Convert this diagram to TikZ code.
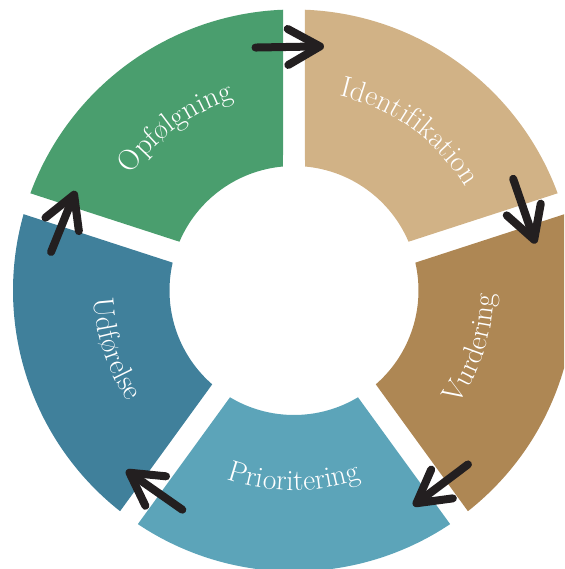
\documentclass[tikz,border=0pt]{standalone}
\usepackage{fontspec}
\usepackage{xcolor}
\usepackage{tikz}
\usetikzlibrary{arrows.meta,decorations.text}

\definecolor{identcol}{HTML}{D1B286}
\definecolor{vurdcol}{HTML}{AE8754}
\definecolor{priocol}{HTML}{5CA4B9}
\definecolor{udfcol}{HTML}{40809B}
\definecolor{opfcol}{HTML}{4A9E6E}
\definecolor{arrowcol}{HTML}{231F20}
\newcommand{\ringfont}{\fontsize{21}{25}\selectfont\color{white}}

\begin{document}
\begin{tikzpicture}[
    ringtext/.style = {decorate, decoration={text along path, text align=center, text={|\ringfont|#1}}},
    flow/.style = {line width=0.2cm, line cap=round, arrowcol,
      -{Straight Barb[length=0.8cm, width=0.9cm, round]}}
  ]
  \clip (-7.35,-6.9625) rectangle (6.75,7.2625);

  % ring segments
  \fill[identcol] (87.76:7.025) arc[start angle=87.76, end angle=20.24, radius=7.025]
    -- (23.07:3.1125) arc[start angle=23.07, end angle=84.93, radius=3.1125] -- cycle;
  \fill[vurdcol] (15.76:7.025) arc[start angle=15.76, end angle=-51.76, radius=7.025]
    -- (-48.93:3.1125) arc[start angle=-48.93, end angle=12.93, radius=3.1125] -- cycle;
  \fill[priocol] (-56.24:7.025) arc[start angle=-56.24, end angle=-123.76, radius=7.025]
    -- (-120.93:3.1125) arc[start angle=-120.93, end angle=-59.07, radius=3.1125] -- cycle;
  \fill[udfcol] (-128.24:7.025) arc[start angle=-128.24, end angle=-195.76, radius=7.025]
    -- (-192.93:3.1125) arc[start angle=-192.93, end angle=-131.07, radius=3.1125] -- cycle;
  \fill[opfcol] (159.76:7.025) arc[start angle=159.76, end angle=92.24, radius=7.025]
    -- (95.07:3.1125) arc[start angle=95.07, end angle=156.93, radius=3.1125] -- cycle;

  % labels
  \path[ringtext=Identifikation] (90:5) arc[start angle=90, end angle=18, radius=5];
  \path[ringtext=Vurdering] (-54:5) arc[start angle=-54, end angle=18, radius=5];
  \path[ringtext=Prioritering] (-126:5) arc[start angle=-126, end angle=-54, radius=5];
  \path[ringtext=Udførelse] (162:5) arc[start angle=162, end angle=234, radius=5];
  \path[ringtext=Opfølgning] (162:5) arc[start angle=162, end angle=90, radius=5];

  % arrows
  \coordinate (opf-out) at (99:6.15);
  \coordinate (ident-in) at (83:6.15);
  \coordinate (ident-out) at (27:6.15);
  \coordinate (vurd-in) at (11:6.15);
  \coordinate (vurd-out) at (-45:6.15);
  \coordinate (prio-in) at (-61:6.15);
  \coordinate (prio-out) at (-117:6.15);
  \coordinate (udf-in) at (-133:6.15);
  \coordinate (udf-out) at (171:6.15);
  \coordinate (opf-in) at (155.5:6.0);
  \draw[flow] (opf-out) -- (ident-in);
  \draw[flow] (ident-out) -- (vurd-in);
  \draw[flow] (vurd-out) -- (prio-in);
  \draw[flow] (prio-out) -- (udf-in);
  \draw[flow] (udf-out) -- (opf-in);
\end{tikzpicture}
\end{document}
